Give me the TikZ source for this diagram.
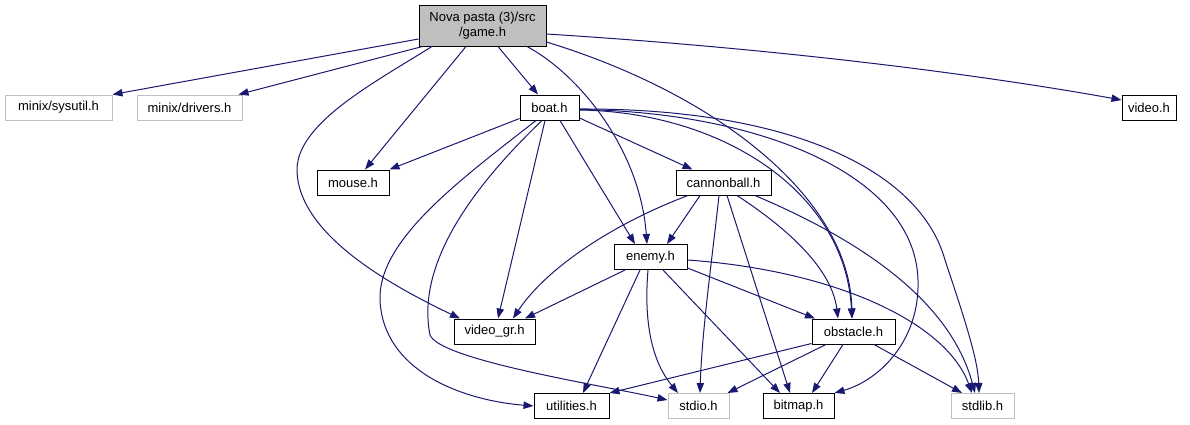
\documentclass[tikz,border=0pt]{standalone}
\usepackage{fontspec}
\setmainfont{Liberation Sans}
\usetikzlibrary{calc,arrows.meta}
\definecolor{edgec}{HTML}{191970}
\definecolor{lg}{HTML}{BFBFBF}
\begin{document}
\begin{tikzpicture}[x=0.75pt,y=-0.75pt,
  nd/.style={draw=black, line width=0.75pt, fill=white, inner sep=0pt, minimum height=18.75pt, font=\fontsize{9.75}{11.25}\selectfont},
  ext/.style={nd, draw=lg},
  edge/.style={draw=edgec, line width=0.75pt, -{Triangle[length=7.5pt,width=5.5pt]}}]
\useasboundingbox[fill=white] (0,0) rectangle (1190,425);
% nodes
\node[nd, fill=lg, minimum width=95.25pt, minimum height=30.75pt, align=center] (game) at (482.5,25.5) {Nova pasta (3)/src\\/game.h};
\node[ext, minimum width=80.25pt] (sysutil) at (58.5,107.5) {minix/sysutil.h};
\node[ext, minimum width=78.75pt] (drivers) at (189.5,107.5) {minix/drivers.h};
\node[nd, minimum width=44.25pt] (boat) at (549.5,107.5) {boat.h};
\node[nd, minimum width=40.5pt] (video) at (1149,107.5) {video.h};
\node[nd, minimum width=54pt] (mouse) at (353,182.5) {mouse.h};
\node[nd, minimum width=71.25pt] (cannonball) at (723.5,182.5) {cannonball.h};
\node[nd, minimum width=54.75pt] (enemy) at (650.5,257) {enemy.h};
\node[nd, minimum width=60.75pt] (video_gr) at (494.5,331.5) {video\_gr.h};
\node[nd, minimum width=62.25pt] (obstacle) at (853.5,331.5) {obstacle.h};
\node[nd, minimum width=56.25pt] (utilities) at (571.5,406) {utilities.h};
\node[ext, minimum width=45.75pt] (stdio) at (698.5,406) {stdio.h};
\node[nd, minimum width=53.25pt] (bitmap) at (798.5,406) {bitmap.h};
\node[ext, minimum width=47.25pt] (stdlib) at (982.5,406) {stdlib.h};
% game.h edges
\draw[edge] ($(game.west)+(0,13.5)$) -- (sysutil.north east);
\draw[edge] ($(game.south west)+(4,0)$) -- ($(drivers.north east)+(-4,0)$);
\draw[edge] ($(game.south)+(-50.5,0)$) .. controls (370,85) and (295,125) .. (297,172) .. controls (300,235) and (390,285) .. ($(video_gr.north)+(-34.5,0)$);
\draw[edge] ($(game.south)+(-16.5,0)$) -- ($(mouse.north)+(12,0)$);
\draw[edge] ($(game.south)+(15.5,0)$) -- ($(boat.north)+(-11.5,0)$);
\draw[edge] ($(game.south)+(44.5,0)$) .. controls (580,75) and (640,150) .. ($(enemy.north)+(-3.5,0)$);
\draw[edge] ($(game.east)+(0,16.5)$) .. controls (720,95) and (850,200) .. ($(obstacle.north)+(-1.5,0)$);
\draw[edge] ($(game.east)+(0,8.5)$) .. controls (800,50) and (1000,78) .. ($(video.west)+(0,-7.5)$);
% boat.h edges
\draw[edge] ($(boat.south west)+(0,-2)$) -- (mouse.north east);
\draw[edge] ($(boat.south)+(-4.5,0)$) -- ($(video_gr.north)+(3.5,0)$);
\draw[edge] ($(boat.south)+(-13.5,0)$) .. controls (460,180) and (378,240) .. (380,300) .. controls (383,370) and (460,400) .. (utilities.west);
\draw[edge] ($(boat.south)+(-7.5,0)$) .. controls (480,180) and (415,260) .. (430,335) .. controls (440,360) and (600,385) .. ($(stdio.west)+(0,-6)$);
\draw[edge] ($(boat.south)+(10.5,0)$) -- ($(enemy.north)+(-15.5,0)$);
\draw[edge] ($(boat.east)+(0,10.5)$) -- ($(cannonball.north west)+(17,0)$);
\draw[edge] ($(boat.east)+(0,2.5)$) .. controls (720,112) and (845,190) .. ($(obstacle.north)+(-1.5,0)$);
\draw[edge] ($(boat.east)+(0,2)$) .. controls (760,112) and (915,175) .. (918,280) .. controls (920,340) and (880,380) .. (bitmap.north east);
\draw[edge] ($(boat.east)+(0,1.5)$) .. controls (790,108) and (920,170) .. (945,260) .. controls (965,320) and (978,360) .. ($(stdlib.north)+(-3.5,0)$);
% cannonball.h edges
\draw[edge] ($(cannonball.south)+(-23.5,0)$) -- ($(enemy.north)+(16.5,0)$);
\draw[edge] ($(cannonball.south)+(-35.5,0)$) .. controls (610,225) and (545,270) .. ($(video_gr.north)+(18.5,0)$);
\draw[edge] ($(cannonball.south)+(-4.5,0)$) .. controls (712,260) and (702,330) .. ($(stdio.north)+(1.5,0)$);
\draw[edge] ($(cannonball.south)+(3.5,0)$) -- ($(bitmap.north)+(-8.5,0)$);
\draw[edge] ($(cannonball.south)+(13.5,0)$) .. controls (790,230) and (832,270) .. ($(obstacle.north)+(-15.5,0)$);
\draw[edge] ($(cannonball.south)+(31.5,0)$) .. controls (860,240) and (950,300) .. ($(stdlib.north)+(-7.5,0)$);
% enemy.h edges
\draw[edge] ($(enemy.south)+(-25.5,0)$) -- ($(video_gr.north)+(30.5,0)$);
\draw[edge] ($(enemy.south)+(-10.5,0)$) -- ($(utilities.north)+(11.5,0)$);
\draw[edge] ($(enemy.south)+(-2.5,0)$) .. controls (643,330) and (655,365) .. ($(stdio.north)+(-20.5,0)$);
\draw[edge] ($(enemy.south)+(12.5,0)$) -- ($(bitmap.north)+(-18.5,0)$);
\draw[edge] ($(enemy.east)+(0,11)$) -- ($(obstacle.north)+(-38.5,0)$);
\draw[edge] ($(enemy.east)+(0,3)$) .. controls (830,270) and (945,320) .. ($(stdlib.north)+(-10.5,0)$);
% obstacle.h edges
\draw[edge] ($(obstacle.south west)+(0,-1)$) -- (utilities.north east);
\draw[edge] ($(obstacle.south)+(-27.5,0)$) -- ($(stdio.north east)+(-2,0)$);
\draw[edge] ($(obstacle.south)+(-10.5,0)$) -- ($(bitmap.north)+(13.5,0)$);
\draw[edge] ($(obstacle.south)+(20.5,0)$) -- ($(stdlib.north)+(-20.5,0)$);
\end{tikzpicture}
\end{document}
